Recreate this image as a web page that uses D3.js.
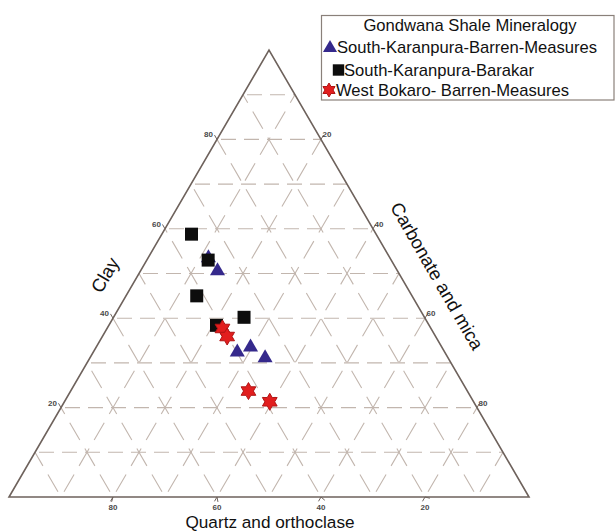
<!DOCTYPE html>
<html><head><meta charset="utf-8">
<script src="https://cdn.jsdelivr.net/npm/d3@7"></script>
<style>html,body{margin:0;padding:0;background:#fff;} svg{display:block;}</style>
</head><body>
<script>
// ---- data ----
const axisBottomLabel = "Quartz and orthoclase";
const axisLeftLabel = "Clay";
const axisRightLabel = "Carbonate and mica";
const legendTitle = "Gondwana Shale Mineralogy";
const seriesNames = ["South-Karanpura-Barren-Measures", "South-Karanpura-Barakar", "West Bokaro- Barren-Measures"];
// each point: [clay, carbonate and mica, quartz and orthoclase] (%)
const skBarrenMeasures = [[53.5, 11.6, 34.9], [50.6, 14.8, 34.6], [32.4, 27.7, 39.9], [33.5, 29.7, 36.8], [31.1, 33.7, 35.2]];
const skBarakar = [[58.8, 5.7, 35.5], [53.0, 11.8, 35.2], [45.0, 13.6, 41.4], [38.4, 20.7, 40.9], [40.2, 25.1, 34.7]];
const wbBarrenMeasures = [[37.7, 22.2, 40.1], [35.9, 24.0, 40.1], [23.7, 34.2, 42.1], [21.3, 39.5, 39.2]];
const tickValues = [20, 40, 60, 80];
const gridValues = [10, 20, 30, 40, 50, 60, 70, 80, 90];

// ---- layout ----
const W = 616, H = 531;
const svg = d3.select("body").append("svg").attr("width", W).attr("height", H);
const yScale = d3.scaleLinear().domain([0, 100]).range([497, 50]);   // clay
const xScale = d3.scaleLinear().domain([0, 100]).range([9, 529]);    // carbonate + clay/2
function proj(clay, carb) { return [xScale(carb + clay / 2), yScale(clay)]; }

const gridColor = "#c2b6ae", frameColor = "#6e625c";

// grid lines
const gridG = svg.append("g");
const line = d3.line();
gridValues.forEach(v => {
  gridG.append("path").attr("d", line([proj(v, 0), proj(v, 100 - v)]))
    .attr("stroke", gridColor).attr("stroke-width", 1.1).attr("fill", "none")
    .attr("stroke-dasharray", "15,8").attr("stroke-dashoffset", -4);
  gridG.append("path").attr("d", line([proj(0, v), proj(100 - v, v)]))
    .attr("stroke", gridColor).attr("stroke-width", 1.1).attr("fill", "none")
    .attr("stroke-dasharray", "20,10").attr("stroke-dashoffset", -6);
  gridG.append("path").attr("d", line([proj(0, 100 - v), proj(100 - v, 0)]))
    .attr("stroke", gridColor).attr("stroke-width", 1.1).attr("fill", "none")
    .attr("stroke-dasharray", "20,10").attr("stroke-dashoffset", -6);
});

// frame
svg.append("path").attr("d", line([proj(0, 0), proj(0, 100), proj(100, 0)]) + "Z")
  .attr("fill", "none").attr("stroke", frameColor).attr("stroke-width", 1.6);

// ticks
const tickG = svg.append("g").attr("stroke", frameColor).attr("stroke-width", 1);
function ext(p, q, len) {
  const dx = p[0] - q[0], dy = p[1] - q[1], d = Math.hypot(dx, dy);
  return [p, [p[0] + dx / d * len, p[1] + dy / d * len]];
}
tickValues.forEach(v => {
  const pl = proj(v, 0);
  tickG.append("path").attr("d", line(ext(pl, proj(0, v), 5)));
  const pr = proj(100 - v, v);
  tickG.append("path").attr("d", line(ext(pr, proj(0, v), 5)));
  const pb = proj(0, 100 - v);
  tickG.append("path").attr("d", line(ext(pb, proj(v, 0), 5)));
  tickG.append("path").attr("d", line(ext(pb, proj(v, 100 - v), 5)));
});

// tick labels
const tl = svg.append("g").attr("font-family", "Liberation Sans, Arial, sans-serif")
  .attr("font-size", 8).attr("font-weight", "bold").attr("fill", "#4a4a4a");
tickValues.forEach(v => {
  const pl = proj(v, 0);
  tl.append("text").attr("x", pl[0] - 4).attr("y", pl[1] - 2).attr("text-anchor", "end").text(v);
  const pr = proj(100 - v, v);
  tl.append("text").attr("x", pr[0] + 1.5).attr("y", pr[1] - 2).attr("text-anchor", "start").text(v);
  const pb = proj(0, 100 - v);
  tl.append("text").attr("x", pb[0]).attr("y", pb[1] + 12.5).attr("text-anchor", "middle").text(v);
});

// axis titles
const at = svg.append("g").attr("font-family", "Liberation Sans, Arial, sans-serif")
  .attr("font-size", 18).attr("fill", "#111");
at.append("text").attr("x", 270).attr("y", 527.5).attr("text-anchor", "middle").attr("font-size", 17.2).text(axisBottomLabel);
at.append("text").attr("transform", "translate(105,275) rotate(-60)").attr("text-anchor", "middle")
  .attr("dy", "0.35em").attr("font-size", 18.5).text(axisLeftLabel);
at.append("text").attr("transform", "translate(437,276) rotate(60)").attr("text-anchor", "middle")
  .attr("dy", "0.35em").attr("font-size", 18.5).text(axisRightLabel);

// markers
const triColor = "#35298c", sqColor = "#0d0d0d", starFill = "#e21e1e", starStroke = "#b01515";
function hexagram(R) {
  const r = R / Math.sqrt(3), pts = [];
  for (let i = 0; i < 12; i++) {
    const a = -Math.PI / 2 + i * Math.PI / 6, rr = i % 2 ? r : R;
    pts.push([rr * Math.cos(a), rr * Math.sin(a)]);
  }
  return d3.line()(pts) + "Z";
}
const mk = svg.append("g");
mk.selectAll(".tri").data(skBarrenMeasures).join("path")
  .attr("d", d3.symbol(d3.symbolTriangle, 98))
  .attr("transform", d => `translate(${proj(d[0], d[1])})`).attr("fill", triColor);
mk.selectAll(".sq").data(skBarakar).join("path")
  .attr("d", d3.symbol(d3.symbolSquare, 169))
  .attr("transform", d => `translate(${proj(d[0], d[1])})`).attr("fill", sqColor);
mk.selectAll(".star").data(wbBarrenMeasures).join("path")
  .attr("d", hexagram(8.5))
  .attr("transform", d => `translate(${proj(d[0], d[1])})`).attr("fill", starFill)
  .attr("stroke", starStroke).attr("stroke-width", 1);

// legend
const lg = svg.append("g").attr("font-family", "Liberation Sans, Arial, sans-serif").attr("font-size", 16.6).attr("fill", "#111");
lg.append("rect").attr("x", 321.5).attr("y", 15.5).attr("width", 292.5).attr("height", 84.5)
  .attr("fill", "#fff").attr("stroke", "#8a807a").attr("stroke-width", 1.2);
lg.append("text").attr("x", 470).attr("y", 31).attr("text-anchor", "middle").text(legendTitle);
lg.append("path").attr("d", d3.symbol(d3.symbolTriangle, 85)).attr("transform", "translate(330,48)").attr("fill", triColor);
lg.append("text").attr("x", 337).attr("y", 52.5).text(seriesNames[0]);
lg.append("path").attr("d", d3.symbol(d3.symbolSquare, 130)).attr("transform", "translate(338.5,70)").attr("fill", sqColor);
lg.append("text").attr("x", 344).attr("y", 75.5).text(seriesNames[1]);
lg.append("path").attr("d", hexagram(7)).attr("transform", "translate(329,90)").attr("fill", starFill).attr("stroke", starStroke);
lg.append("text").attr("x", 336).attr("y", 96).text(seriesNames[2]);
</script>
</body></html>
